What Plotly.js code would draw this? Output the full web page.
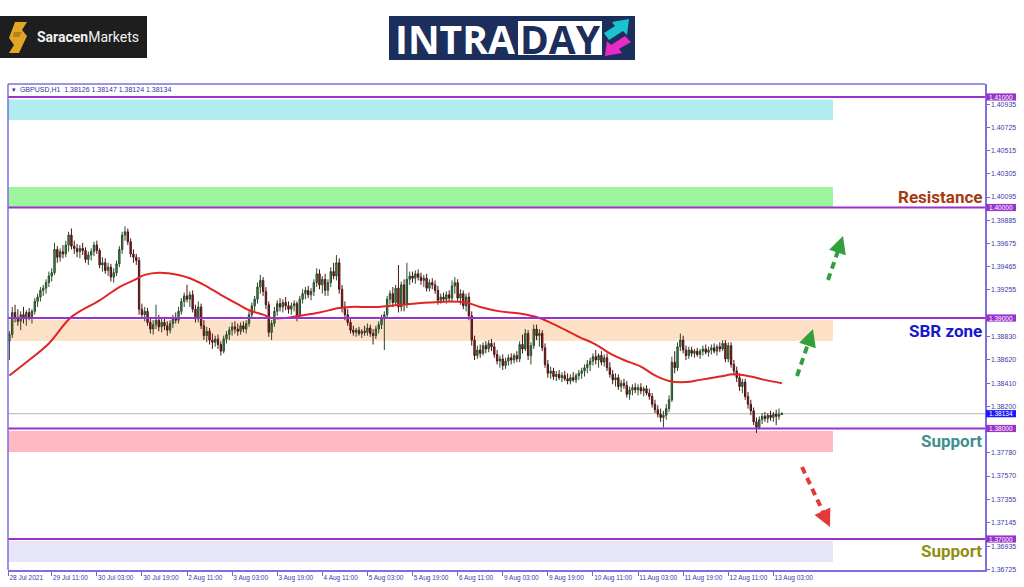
<!DOCTYPE html>
<html><head><meta charset="utf-8">
<script src="https://cdn.plot.ly/plotly-3.0.1.min.js"></script>
<style>html,body{margin:0;padding:0;background:#fff;}#chart{width:1024px;height:587px;}</style>
</head><body><div id="chart"></div>
<script>
const symbolInfo = "\u25BE  GBPUSD,H1  1.38126 1.38147 1.38124 1.38134";
const openP = [
1.3878,1.3879,1.3885,1.3905,1.3900,1.3897,1.3903,1.3899,1.3905,1.3901,
1.3906,1.3915,1.3919,1.3925,1.3927,1.3932,1.3938,1.3941,1.3962,1.3955,
1.3960,1.3958,1.3966,1.3975,1.3965,1.3963,1.3960,1.3963,1.3961,1.3953,
1.3957,1.3960,1.3966,1.3961,1.3948,1.3950,1.3943,1.3946,1.3937,1.3941,
1.3949,1.3962,1.3975,1.3978,1.3969,1.3958,1.3955,1.3952,1.3908,1.3903,
1.3906,1.3896,1.3890,1.3894,1.3898,1.3892,1.3896,1.3893,1.3889,1.3895,
1.3900,1.3898,1.3906,1.3915,1.3920,1.3917,1.3921,1.3908,1.3899,1.3910,
1.3893,1.3884,1.3888,1.3880,1.3878,1.3881,1.3876,1.3870,1.3881,1.3885,
1.3889,1.3892,1.3890,1.3888,1.3893,1.3890,1.3895,1.3903,1.3911,1.3917,
1.3928,1.3934,1.3924,1.3912,1.3887,1.3895,1.3906,1.3913,1.3910,1.3914,
1.3911,1.3908,1.3911,1.3913,1.3902,1.3917,1.3922,1.3925,1.3921,1.3924,
1.3932,1.3940,1.3930,1.3935,1.3925,1.3932,1.3942,1.3938,1.3950,1.3926,
1.3910,1.3903,1.3896,1.3889,1.3887,1.3889,1.3886,1.3888,1.3887,1.3891,
1.3886,1.3884,1.3890,1.3894,1.3899,1.3903,1.3917,1.3922,1.3914,1.3927,
1.3910,1.3930,1.3912,1.3935,1.3938,1.3936,1.3940,1.3937,1.3934,1.3936,
1.3927,1.3932,1.3930,1.3925,1.3916,1.3919,1.3917,1.3921,1.3918,1.3929,
1.3932,1.3918,1.3922,1.3911,1.3919,1.3902,1.3880,1.3866,1.3871,1.3868,
1.3875,1.3872,1.3877,1.3874,1.3867,1.3861,1.3863,1.3857,1.3861,1.3864,
1.3862,1.3866,1.3863,1.3876,1.3872,1.3886,1.3866,1.3875,1.3890,1.3884,
1.3886,1.3873,1.3858,1.3850,1.3852,1.3847,1.3849,1.3846,1.3848,1.3845,
1.3843,1.3846,1.3844,1.3848,1.3850,1.3852,1.3855,1.3858,1.3861,1.3865,
1.3862,1.3866,1.3860,1.3864,1.3855,1.3849,1.3844,1.3846,1.3838,1.3841,
1.3839,1.3831,1.3835,1.3837,1.3835,1.3837,1.3834,1.3836,1.3832,1.3829,
1.3822,1.3817,1.3813,1.3810,1.3812,1.3818,1.3826,1.3860,1.3855,1.3874,
1.3880,1.3871,1.3866,1.3871,1.3868,1.3870,1.3867,1.3870,1.3872,1.3869,
1.3871,1.3873,1.3870,1.3874,1.3872,1.3877,1.3863,1.3875,1.3858,1.3852,
1.3846,1.3838,1.3842,1.3829,1.3822,1.3816,1.3806,1.3801,1.3808,1.3811,
1.3809,1.3812,1.3810,1.3813,1.3811,1.38126];
const highP = [
1.3888,1.3888,1.3910,1.3912,1.3908,1.3906,1.3910,1.3907,1.3909,1.3908,
1.3918,1.3922,1.3928,1.3930,1.3935,1.3942,1.3945,1.3968,1.3965,1.3963,
1.3966,1.3970,1.3978,1.3981,1.3970,1.3967,1.3966,1.3968,1.3964,1.3960,
1.3963,1.3969,1.3970,1.3963,1.3955,1.3954,1.3950,1.3949,1.3945,1.3952,
1.3965,1.3978,1.3983,1.3981,1.3972,1.3962,1.3958,1.3955,1.3913,1.3910,
1.3909,1.3900,1.3898,1.3912,1.3903,1.3899,1.3901,1.3897,1.3898,1.3903,
1.3905,1.3910,1.3918,1.3923,1.3930,1.3924,1.3925,1.3912,1.3915,1.3913,
1.3898,1.3892,1.3891,1.3886,1.3884,1.3885,1.3879,1.3884,1.3888,1.3892,
1.3896,1.3897,1.3895,1.3896,1.3897,1.3898,1.3906,1.3914,1.3920,1.3932,
1.3939,1.3937,1.3928,1.3915,1.3898,1.3910,1.3916,1.3918,1.3917,1.3919,
1.3915,1.3914,1.3916,1.3915,1.3920,1.3926,1.3928,1.3929,1.3927,1.3935,
1.3945,1.3944,1.3938,1.3940,1.3935,1.3946,1.3950,1.3957,1.3954,1.3930,
1.3915,1.3908,1.3899,1.3893,1.3891,1.3892,1.3890,1.3893,1.3895,1.3894,
1.3890,1.3893,1.3897,1.3903,1.3906,1.3920,1.3925,1.3928,1.3930,1.3948,
1.3933,1.3935,1.3950,1.3942,1.3942,1.3943,1.3944,1.3941,1.3939,1.3940,
1.3935,1.3936,1.3934,1.3929,1.3922,1.3923,1.3924,1.3925,1.3934,1.3937,
1.3935,1.3926,1.3925,1.3922,1.3923,1.3906,1.3884,1.3875,1.3876,1.3878,
1.3879,1.3880,1.3881,1.3878,1.3871,1.3866,1.3867,1.3864,1.3867,1.3868,
1.3868,1.3870,1.3879,1.3885,1.3890,1.3889,1.3878,1.3894,1.3894,1.3890,
1.3889,1.3877,1.3862,1.3856,1.3855,1.3852,1.3853,1.3851,1.3852,1.3850,
1.3849,1.3851,1.3850,1.3853,1.3855,1.3858,1.3862,1.3864,1.3868,1.3871,
1.3868,1.3870,1.3867,1.3868,1.3860,1.3853,1.3850,1.3849,1.3844,1.3845,
1.3843,1.3838,1.3840,1.3841,1.3840,1.3841,1.3838,1.3839,1.3836,1.3832,
1.3826,1.3821,1.3818,1.3816,1.3822,1.3830,1.3865,1.3870,1.3878,1.3886,
1.3884,1.3875,1.3874,1.3874,1.3872,1.3873,1.3872,1.3875,1.3876,1.3874,
1.3876,1.3877,1.3876,1.3878,1.3880,1.3880,1.3878,1.3878,1.3862,1.3856,
1.3850,1.3845,1.3845,1.3833,1.3826,1.3819,1.3810,1.3811,1.3814,1.3815,
1.3814,1.3816,1.3815,1.3817,1.3818,1.38147];
const lowP = [
1.3860,1.3862,1.3882,1.3896,1.3893,1.3889,1.3895,1.3893,1.3898,1.3895,
1.3903,1.3910,1.3915,1.3920,1.3922,1.3928,1.3933,1.3939,1.3950,1.3951,
1.3954,1.3955,1.3960,1.3962,1.3958,1.3955,1.3954,1.3957,1.3950,1.3948,
1.3952,1.3956,1.3958,1.3945,1.3942,1.3940,1.3938,1.3933,1.3932,1.3938,
1.3946,1.3958,1.3970,1.3966,1.3955,1.3950,1.3948,1.3903,1.3899,1.3897,
1.3893,1.3886,1.3885,1.3890,1.3888,1.3887,1.3889,1.3884,1.3886,1.3891,
1.3895,1.3895,1.3903,1.3910,1.3914,1.3910,1.3905,1.3896,1.3896,1.3890,
1.3880,1.3878,1.3876,1.3872,1.3874,1.3872,1.3866,1.3868,1.3877,1.3880,
1.3884,1.3886,1.3884,1.3885,1.3887,1.3886,1.3892,1.3900,1.3906,1.3913,
1.3922,1.3920,1.3908,1.3883,1.3880,1.3892,1.3902,1.3906,1.3905,1.3907,
1.3904,1.3903,1.3906,1.3897,1.3900,1.3913,1.3917,1.3918,1.3916,1.3920,
1.3928,1.3926,1.3922,1.3920,1.3920,1.3928,1.3935,1.3934,1.3922,1.3905,
1.3898,1.3893,1.3886,1.3884,1.3883,1.3884,1.3882,1.3884,1.3884,1.3883,
1.3876,1.3881,1.3886,1.3890,1.3871,1.3900,1.3912,1.3910,1.3912,1.3905,
1.3906,1.3906,1.3909,1.3930,1.3932,1.3931,1.3934,1.3930,1.3928,1.3924,
1.3924,1.3926,1.3922,1.3912,1.3913,1.3914,1.3913,1.3914,1.3915,1.3922,
1.3915,1.3912,1.3908,1.3906,1.3898,1.3875,1.3862,1.3863,1.3864,1.3866,
1.3868,1.3869,1.3870,1.3864,1.3858,1.3855,1.3853,1.3854,1.3857,1.3858,
1.3859,1.3860,1.3860,1.3868,1.3870,1.3862,1.3858,1.3872,1.3880,1.3874,
1.3870,1.3855,1.3846,1.3845,1.3844,1.3843,1.3844,1.3842,1.3843,1.3840,
1.3840,1.3842,1.3841,1.3844,1.3845,1.3847,1.3850,1.3852,1.3857,1.3858,
1.3855,1.3857,1.3856,1.3852,1.3846,1.3840,1.3838,1.3835,1.3833,1.3836,
1.3828,1.3826,1.3830,1.3832,1.3830,1.3831,1.3829,1.3830,1.3826,1.3819,
1.3814,1.3810,1.3806,1.3801,1.3808,1.3815,1.3824,1.3850,1.3852,1.3870,
1.3868,1.3862,1.3863,1.3865,1.3864,1.3865,1.3863,1.3866,1.3867,1.3865,
1.3867,1.3868,1.3866,1.3869,1.3870,1.3860,1.3860,1.3855,1.3848,1.3842,
1.3834,1.3832,1.3826,1.3818,1.3812,1.3803,1.3796,1.3799,1.3804,1.3806,
1.3805,1.3807,1.3806,1.3803,1.3808,1.38124];
const closeP = [
1.3879,1.3885,1.3905,1.3900,1.3897,1.3903,1.3899,1.3905,1.3901,1.3906,
1.3915,1.3919,1.3925,1.3927,1.3932,1.3938,1.3941,1.3962,1.3955,1.3960,
1.3958,1.3966,1.3975,1.3965,1.3963,1.3960,1.3963,1.3961,1.3953,1.3957,
1.3960,1.3966,1.3961,1.3948,1.3950,1.3943,1.3946,1.3937,1.3941,1.3949,
1.3962,1.3975,1.3978,1.3969,1.3958,1.3955,1.3952,1.3908,1.3903,1.3906,
1.3896,1.3890,1.3894,1.3898,1.3892,1.3896,1.3893,1.3889,1.3895,1.3900,
1.3898,1.3906,1.3915,1.3920,1.3917,1.3921,1.3908,1.3899,1.3910,1.3893,
1.3884,1.3888,1.3880,1.3878,1.3881,1.3876,1.3870,1.3881,1.3885,1.3889,
1.3892,1.3890,1.3888,1.3893,1.3890,1.3895,1.3903,1.3911,1.3917,1.3928,
1.3934,1.3924,1.3912,1.3887,1.3895,1.3906,1.3913,1.3910,1.3914,1.3911,
1.3908,1.3911,1.3913,1.3902,1.3917,1.3922,1.3925,1.3921,1.3924,1.3932,
1.3940,1.3930,1.3935,1.3925,1.3932,1.3942,1.3938,1.3950,1.3926,1.3910,
1.3903,1.3896,1.3889,1.3887,1.3889,1.3886,1.3888,1.3887,1.3891,1.3886,
1.3884,1.3890,1.3894,1.3899,1.3903,1.3917,1.3922,1.3914,1.3927,1.3910,
1.3930,1.3912,1.3935,1.3938,1.3936,1.3940,1.3937,1.3934,1.3936,1.3927,
1.3932,1.3930,1.3925,1.3916,1.3919,1.3917,1.3921,1.3918,1.3929,1.3932,
1.3918,1.3922,1.3911,1.3919,1.3902,1.3880,1.3866,1.3871,1.3868,1.3875,
1.3872,1.3877,1.3874,1.3867,1.3861,1.3863,1.3857,1.3861,1.3864,1.3862,
1.3866,1.3863,1.3876,1.3872,1.3886,1.3866,1.3875,1.3890,1.3884,1.3886,
1.3873,1.3858,1.3850,1.3852,1.3847,1.3849,1.3846,1.3848,1.3845,1.3843,
1.3846,1.3844,1.3848,1.3850,1.3852,1.3855,1.3858,1.3861,1.3865,1.3862,
1.3866,1.3860,1.3864,1.3855,1.3849,1.3844,1.3846,1.3838,1.3841,1.3839,
1.3831,1.3835,1.3837,1.3835,1.3837,1.3834,1.3836,1.3832,1.3829,1.3822,
1.3817,1.3813,1.3810,1.3812,1.3818,1.3826,1.3860,1.3855,1.3874,1.3880,
1.3871,1.3866,1.3871,1.3868,1.3870,1.3867,1.3870,1.3872,1.3869,1.3871,
1.3873,1.3870,1.3874,1.3872,1.3877,1.3863,1.3875,1.3858,1.3852,1.3846,
1.3838,1.3842,1.3829,1.3822,1.3816,1.3806,1.3801,1.3808,1.3811,1.3809,
1.3812,1.3810,1.3813,1.3811,1.3813,1.38134];

const maBar = [1,8,15,23,33,40,45,49,54,61,65,70,76,81,86,91,94,99,104,111,118,122,131,140,150,157,163,168,175,182,189,196,203,209,214,219,225,230,235,241,246,253,258,264,269,275];
const maVal = [1.3848,1.3862,1.3877,1.3901,1.3916,1.3928,1.3934,1.3939,1.3941,1.3939,1.3936,1.3930,1.3921,1.3914,1.3907,1.3903,1.3900,1.3900,1.3902,1.3905,1.3909,1.3910,1.3910,1.3912,1.3914,1.3915,1.3914,1.3910,1.3906,1.3904,1.3900,1.3892,1.3883,1.3876,1.3868,1.3862,1.3856,1.3848,1.3843,1.3842,1.3844,1.3847,1.3849,1.3847,1.3844,1.3841];

const xTickBar = [0.55,16,32,48,64,80,96,112,128,144,160,176,192,208,224,240,256,272];
const xTickText = ["28 Jul 2021","29 Jul 11:00","30 Jul 03:00","30 Jul 19:00","2 Aug 11:00","3 Aug 03:00","3 Aug 19:00","4 Aug 11:00","5 Aug 03:00","5 Aug 19:00","6 Aug 11:00","9 Aug 03:00","9 Aug 19:00","10 Aug 11:00","11 Aug 03:00","11 Aug 19:00","12 Aug 11:00","13 Aug 03:00"];
const yTickVals = [1.40935,1.40725,1.40515,1.40305,1.40095,1.39885,1.39675,1.39465,1.39255,1.38830,1.38620,1.38410,1.38200,1.37780,1.37570,1.37355,1.37145,1.36935,1.36725];

const levelPrices = [1.41,1.40,1.39,1.38,1.37];
const lastPrice = 1.38134;
const zoneTop = [1.40978,1.40186,1.38982,1.37977,1.36982];
const zoneBottom = [1.40792,1.40005,1.38792,1.37787,1.36792];
const zoneLabels = ["Resistance","SBR zone","Support","Support"];
const zoneLabelPrice = [1.40095,1.38882,1.37887,1.36891];

// ---- layout helpers (pixel -> paper) ----
const PL = 8, PR = 985, PT = 84, PB = 570;
const px = v => (v - PL) / (PR - PL);
const py = v => (PB - v) / (PB - PT);
const pyH = h => h * 0.04398 / (PB - PT);  // pixel height -> price span
const pathPx = pts => 'M ' + pts.map(p => px(p[0]).toFixed(5) + ',' + py(p[1]).toFixed(5)).join(' L ') + ' Z';

const barIdx = closeP.map((_, k) => k);

const zoneFill = ['#b1ecef', '#9df59d', '#fde1c6', '#ffb9c2', '#e6e6f8'];

const shapes = [];
zoneTop.forEach((t, k) => shapes.push({type:'rect', xref:'paper', yref:'y', x0:0, x1:px(833), y0:zoneBottom[k], y1:t, fillcolor:zoneFill[k], line:{width:0}, layer:'below'}));
levelPrices.forEach(p => shapes.push({type:'line', xref:'paper', yref:'y', x0:0, x1:1, y0:p, y1:p, line:{color:'#9933cc', width:2}, layer:'above'}));
shapes.push({type:'line', xref:'paper', yref:'y', x0:0, x1:1, y0:lastPrice, y1:lastPrice, line:{color:'#b4b4b4', width:1}, layer:'below'});
// price tag boxes on the axis
levelPrices.forEach(p => shapes.push({type:'rect', xref:'paper', yref:'y', x0:px(986), x1:px(1016), y0:p - pyH(3.6), y1:p + pyH(3.6), fillcolor:'#9933cc', line:{width:0}}));
shapes.push({type:'rect', xref:'paper', yref:'y', x0:px(986), x1:px(1016), y0:lastPrice - pyH(3.6), y1:lastPrice + pyH(3.6), fillcolor:'#1a1aff', line:{width:0}});
// frame
shapes.push({type:'line', xref:'paper', yref:'paper', x0:0, x1:0, y0:0, y1:1, line:{color:'#7b6fe3', width:1.5}});
shapes.push({type:'line', xref:'paper', yref:'paper', x0:0, x1:1, y0:1, y1:1, line:{color:'#7b6fe3', width:1.5}});
// dashed arrows
const dashArrows = [
  {from:[828,280], to:[838.5,249.5], color:'#33a03c'},
  {from:[797,376], to:[808.5,342.5], color:'#33a03c'},
  {from:[802,467], to:[824,514], color:'#e23a3a'}
];
dashArrows.forEach(a => shapes.push({type:'line', xref:'paper', yref:'paper', x0:px(a.from[0]), y0:py(a.from[1]), x1:px(a.to[0]), y1:py(a.to[1]), line:{color:a.color, width:4, dash:'7px,5px'}}));
// logos
shapes.push({type:'rect', xref:'paper', yref:'paper', x0:px(0), x1:px(147), y0:py(58), y1:py(16), fillcolor:'#1e1e1e', line:{width:0}});
shapes.push({type:'path', xref:'paper', yref:'paper', path:pathPx([[15,22],[27,22],[22,30],[27,36],[19,53],[9,53],[14,45],[9,38]]), fillcolor:'#e3a526', line:{width:0}});
shapes.push({type:'path', xref:'paper', yref:'paper', path:pathPx([[14,32],[22,32],[19,37],[13,37]]), fillcolor:'#b8801a', line:{width:0}});
shapes.push({type:'rect', xref:'paper', yref:'paper', x0:px(389), x1:px(635), y0:py(60), y1:py(16), fillcolor:'#1c2e5c', line:{width:0}});
shapes.push({type:'rect', xref:'paper', yref:'paper', x0:px(518), x1:px(602), y0:py(55), y1:py(21), fillcolor:'#ffffff', line:{width:0}});
shapes.push({type:'path', xref:'paper', yref:'paper', path:pathPx([[604,33],[615,26],[612,22],[629,19],[627,35],[623,31],[609,40]]), fillcolor:'#19c3cf', line:{width:0}});
shapes.push({type:'path', xref:'paper', yref:'paper', path:pathPx([[631,42],[619,49],[622,53],[605,56],[607,41],[611,45],[625,36]]), fillcolor:'#e929c8', line:{width:0}});

const annotations = [];
levelPrices.forEach(p => annotations.push({xref:'paper', yref:'y', x:px(1001), y:p, xanchor:'center', yanchor:'middle', text:p.toFixed(5), showarrow:false, borderpad:0, font:{family:'Liberation Sans', size:6.5, color:'#ffffff'}}));
annotations.push({xref:'paper', yref:'y', x:px(1001), y:lastPrice, xanchor:'center', yanchor:'middle', text:lastPrice.toFixed(5), showarrow:false, borderpad:0, font:{family:'Liberation Sans', size:6.5, color:'#ffffff'}});
const labelColors = ['#a33b12', '#1717cc', '#3f8f8c', '#8f8f12'];
zoneLabels.forEach((t, k) => annotations.push({xref:'paper', yref:'y', x:px(984), y:zoneLabelPrice[k], xanchor:'right', yanchor:'middle', text:'<b>' + t + '</b>', showarrow:false, font:{family:'Roboto', size:17, color:labelColors[k]}}));
annotations.push({xref:'paper', yref:'paper', x:px(10), y:py(89), xanchor:'left', yanchor:'middle', text:symbolInfo, showarrow:false, font:{family:'Liberation Sans', size:7, color:'#333399'}});
// arrowheads
const heads = [
  {tip:[843,236], ax:-4.5, ay:13.5, color:'#33a03c'},
  {tip:[813,329], ax:-4.5, ay:13.5, color:'#33a03c'},
  {tip:[830,527], ax:-6, ay:-12.5, color:'#e23a3a'}
];
heads.forEach(h => annotations.push({xref:'paper', yref:'paper', x:px(h.tip[0]), y:py(h.tip[1]), ax:h.ax, ay:h.ay, text:'', showarrow:true, arrowhead:2, arrowsize:1, arrowwidth:3.5, arrowcolor:h.color}));
// logos text
annotations.push({xref:'paper', yref:'paper', x:px(35), y:py(37), xanchor:'left', yanchor:'middle', text:'<b>Saracen</b>Markets', showarrow:false, font:{family:'Roboto', size:14, color:'#f2f2f2'}});
annotations.push({xref:'paper', yref:'paper', x:px(455), y:py(38.5), xanchor:'center', yanchor:'middle', text:'<b>INTRA</b>', showarrow:false, font:{family:'Open Sans', size:39, color:'#ffffff'}});
annotations.push({xref:'paper', yref:'paper', x:px(560), y:py(38.5), xanchor:'center', yanchor:'middle', text:'<b>DAY</b>', showarrow:false, font:{family:'Open Sans', size:39, color:'#1c2e5c'}});

const traces = [
  {type:'candlestick', x:barIdx, open:openP, high:highP, low:lowP, close:closeP,
   increasing:{line:{color:'#2b4a2b', width:1}, fillcolor:'#3f9a48'},
   decreasing:{line:{color:'#4a1414', width:1}, fillcolor:'#a11d1d'},
   whiskerwidth:0, hoverinfo:'skip', showlegend:false},
  {type:'scatter', mode:'lines', x:maBar, y:maVal, line:{color:'#e12424', width:2, shape:'spline', smoothing:1}, hoverinfo:'skip', showlegend:false}
];

const layout = {
  width:1024, height:587,
  margin:{l:PL, r:1024-PR, t:PT, b:587-PB},
  paper_bgcolor:'#ffffff', plot_bgcolor:'#ffffff', showlegend:false,
  xaxis:{range:[0.5,347.07], tickvals:xTickBar, ticktext:xTickText, ticks:'outside', ticklen:4, tickcolor:'#6a6ad0', tickangle:0,
    showgrid:false, zeroline:false, showline:true, linecolor:'#7b6fe3', linewidth:1.5,
    tickfont:{family:'Liberation Sans', size:6.5, color:'#3b3ba8'}, ticklabelposition:'outside right', ticklabelstandoff:1,
    rangeslider:{visible:false}, fixedrange:true},
  yaxis:{range:[1.367195,1.411176], side:'right', tickvals:yTickVals, tickformat:'.5f', ticks:'outside', ticklen:3, tickcolor:'#6a6ad0',
    showgrid:false, zeroline:false, showline:true, linecolor:'#7b6fe3', linewidth:1.5,
    tickfont:{family:'Liberation Sans', size:7, color:'#3b3ba8'}, fixedrange:true},
  shapes:shapes, annotations:annotations
};

Plotly.newPlot('chart', traces, layout, {staticPlot:true, displayModeBar:false});
</script>
</body></html>
